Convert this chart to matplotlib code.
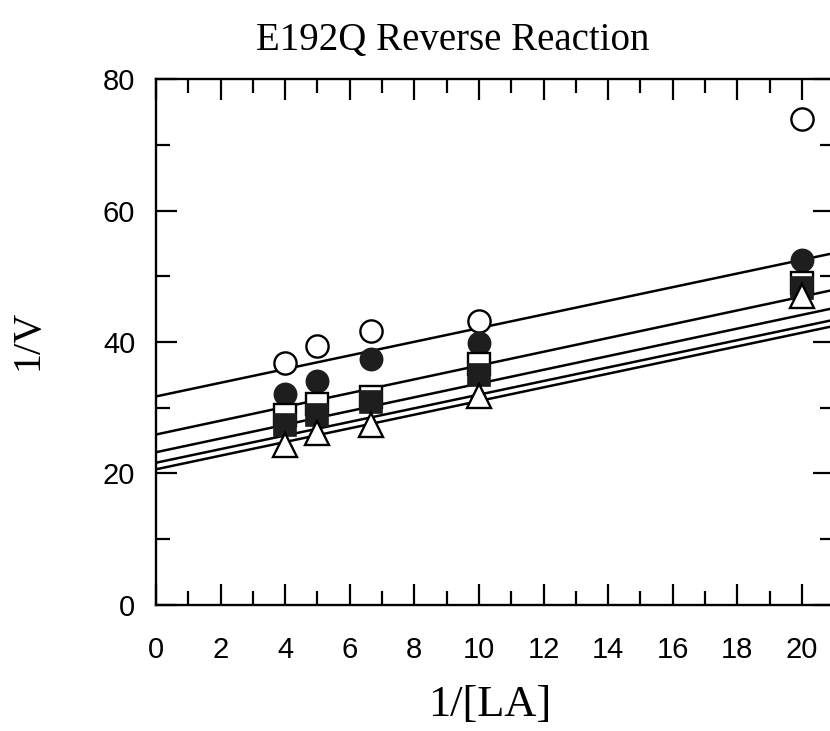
import matplotlib
matplotlib.use("Agg")
import matplotlib.pyplot as plt
import numpy as np

# Data
x_vals = [4, 5, 6.667, 10, 20]
open_circles = [36.8, 39.4, 41.6, 43.2, 74.0]
filled_circles = [32.1, 34.1, 37.4, 39.9, 52.5]
open_squares = [28.8, 30.6, 31.6, 36.7, 49.0]
filled_squares = [27.4, 28.9, 30.9, 34.9, 48.2]
open_triangles = [24.3, 26.1, 27.3, 31.8, 47.0]

# Fitted lines (intercept, slope) per series
line_intercepts = [31.7, 25.9, 23.2, 21.6, 20.6]
line_slopes = [1.04, 1.05, 1.046, 1.037, 1.04]

x_ticks = [0, 2, 4, 6, 8, 10, 12, 14, 16, 18, 20]
y_ticks = [0, 20, 40, 60, 80]

fig = plt.figure(figsize=(8.30, 7.31), dpi=100)
ax = fig.add_axes([0.188, 0.173, 0.817, 0.7185])

xl = np.array([0, 21])
for b, m in zip(line_intercepts, line_slopes):
    ax.plot(xl, b + m * xl, color="black", lw=1.8, zorder=2)

dark = "#1e1e1e"
ms = 16
ax.plot(x_vals, open_circles, "o", ms=ms, mfc="white", mec="black", mew=1.7, ls="none", zorder=3, clip_on=False)
ax.plot(x_vals, filled_circles, "o", ms=ms, mfc=dark, mec=dark, mew=1.2, ls="none", zorder=4, clip_on=False)
ax.plot(x_vals, open_squares, "s", ms=ms - 0.7, mfc="white", mec="black", mew=1.7, ls="none", zorder=5, clip_on=False)
ax.plot(x_vals, filled_squares, "s", ms=ms - 0.7, mfc=dark, mec=dark, mew=1.2, ls="none", zorder=6, clip_on=False)
ax.plot(x_vals, open_triangles, "^", ms=ms + 1, mfc="white", mec="black", mew=1.7, ls="none", zorder=7, clip_on=False)

ax.set_xlim(0, 21)
ax.set_ylim(0, 80)
ax.set_xticks(x_ticks)
ax.set_yticks(y_ticks)
ax.set_xticks(np.arange(1, 21, 2), minor=True)
ax.set_yticks(np.arange(10, 80, 20), minor=True)
ax.tick_params(which="both", direction="in", top=True, right=True, width=1.6, color="black")
ax.tick_params(which="major", length=15)
ax.tick_params(which="minor", length=10)
ax.tick_params(axis="x", which="major", pad=23, labelsize=21)
ax.tick_params(axis="y", which="major", pad=15, labelsize=21)
for lab in ax.get_xticklabels() + ax.get_yticklabels():
    lab.set_fontfamily("Liberation Sans")
for s in ax.spines.values():
    s.set_linewidth(1.7)

fig.text(0.546, 0.945, "E192Q Reverse Reaction", ha="center", va="center",
         fontsize=28, family="Liberation Serif")
fig.text(0.59, 0.036, "1/[LA]", ha="center", va="center",
         fontsize=32, family="Liberation Serif")
fig.text(0.034, 0.535, "1/V", ha="center", va="center", rotation=90,
         fontsize=29, family="Liberation Serif")

fig.savefig("out.png", dpi=100)
